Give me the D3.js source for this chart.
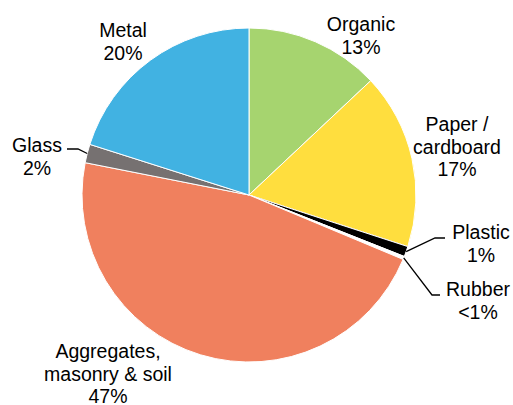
<!DOCTYPE html>
<html>
<head>
<meta charset="utf-8">
<script src="https://cdn.jsdelivr.net/npm/d3@7"></script>
<style>
  body { margin: 0; background: #fff; }
  text { font-family: "Liberation Sans", Arial, sans-serif; font-size: 19.5px; fill: #000; }
</style>
</head>
<body>
<div id="chart"></div>
<script>
// data (percent of total)
const categories = ["Organic", "Paper / cardboard", "Plastic", "Rubber", "Aggregates, masonry & soil", "Glass", "Metal"];
const values = [13, 17, 1, 0.3, 46.8, 1.8, 20.1];
const valueLabels = ["13%", "17%", "1%", "<1%", "47%", "2%", "20%"];
const labelLines = [["Organic"], ["Paper /", "cardboard"], ["Plastic"], ["Rubber"], ["Aggregates,", "masonry & soil"], ["Glass"], ["Metal"]];
const colors = ["#A6D46F", "#FFDE3E", "#000000", "#FFFFFF", "#F0805E", "#767171", "#41B2E2"];

let width = 513, height = 405;
let cx = 249, cy = 195, radius = 167;

// label placement: center x, first baseline
const labelPos = [
  {x: 361, y: 31}, {x: 457, y: 131}, {x: 481, y: 239}, {x: 478, y: 296},
  {x: 108, y: 358}, {x: 37, y: 152}, {x: 123, y: 37}
];
// leader elbows (only for the small slices)
const leaders = {2: [[435, 238], [445, 238]], 3: [[432, 295], [440, 295]], 5: [[78, 149], [67, 149]]};

let data = categories.map(function(c, i) { return {name: c, value: values[i], i: i}; });

let svg = d3.select("#chart")
    .append("svg")
    .attr("width", width)
    .attr("height", height);

let pie = d3.pie().sort(null).value(function(d) { return d.value; });
let arc = d3.arc().innerRadius(0).outerRadius(radius);
let arcs = pie(data);

let g = svg.append("g").attr("transform", "translate(" + cx + "," + cy + ")");

g.selectAll("path.slice")
    .data(arcs)
    .enter().append("path")
    .attr("class", "slice")
    .attr("d", arc)
    .style("fill", function(d) { return colors[d.data.i]; })
    .style("stroke", "#fff")
    .style("stroke-width", 1);

// leader lines
arcs.forEach(function(d) {
    let pts = leaders[d.data.i];
    if (!pts) return;
    let a = (d.startAngle + d.endAngle) / 2;
    let start = [cx + radius * Math.sin(a), cy - radius * Math.cos(a)];
    svg.append("polyline")
        .attr("points", [start].concat(pts).map(function(p) { return p.join(","); }).join(" "))
        .style("fill", "none")
        .style("stroke", "#000")
        .style("stroke-width", 1.3);
});

// labels
data.forEach(function(d) {
    let pos = labelPos[d.i];
    let lines = labelLines[d.i].concat([valueLabels[d.i]]);
    let t = svg.append("text")
        .attr("text-anchor", "middle")
        .attr("x", pos.x)
        .attr("y", pos.y);
    lines.forEach(function(l, k) {
        t.append("tspan")
            .attr("x", pos.x)
            .attr("dy", k === 0 ? 0 : 22.5)
            .text(l);
    });
});
</script>
</body>
</html>
